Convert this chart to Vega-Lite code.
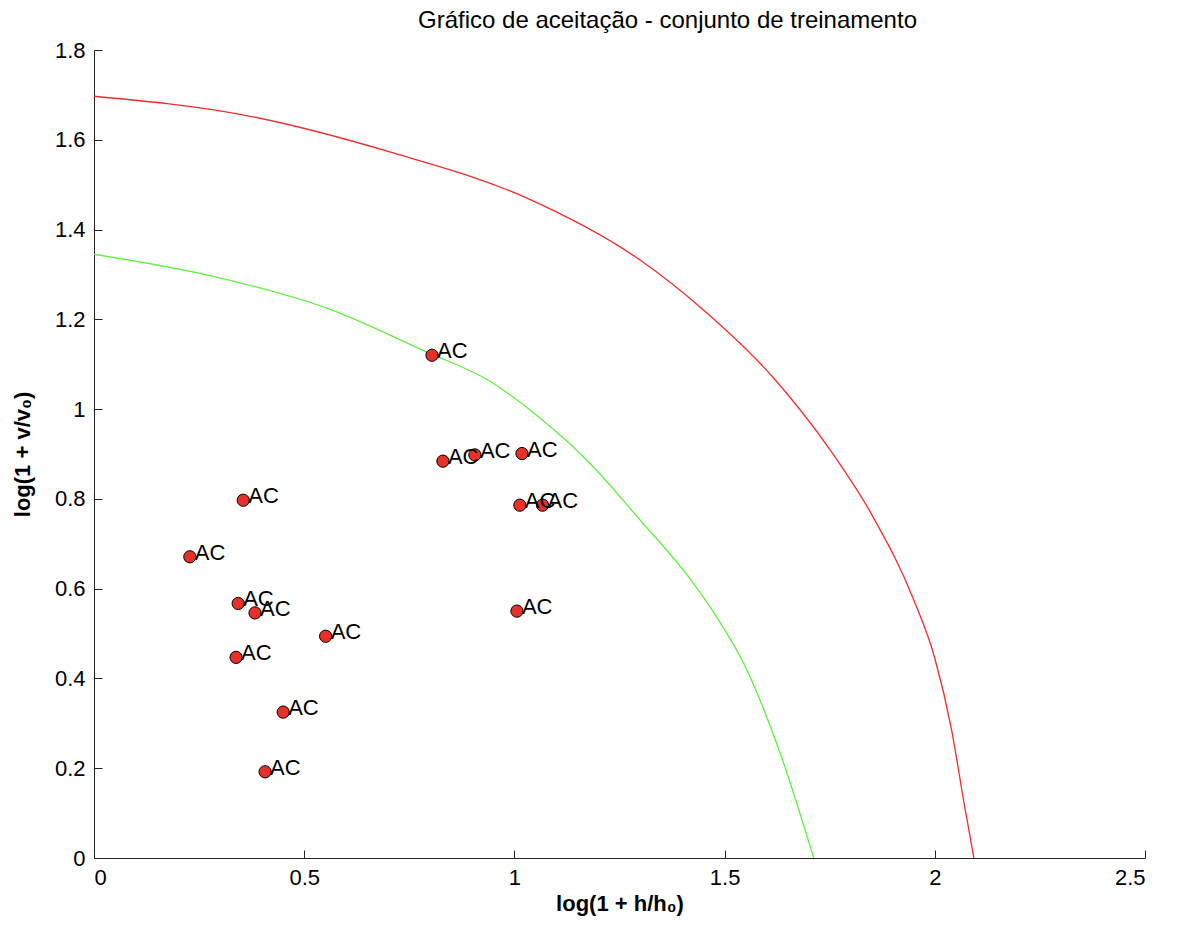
{
  "$schema": "https://vega.github.io/schema/vega-lite/v6.json",
  "autosize": {"type": "none"},
  "padding": {"left": 94, "top": 50, "right": 45, "bottom": 70},
  "width": 1051,
  "height": 808,
  "background": "white",
  "title": {
    "text": "Gráfico de aceitação - conjunto de treinamento",
    "font": "Liberation Sans",
    "fontSize": 24,
    "fontWeight": "normal",
    "color": "black",
    "anchor": "middle",
    "frame": "group",
    "dx": 48,
    "offset": -13,
    "baseline": "alphabetic"
  },
  "config": {
    "view": {"stroke": null},
    "axis": {
      "grid": false,
      "domainColor": "#262626",
      "tickColor": "#262626",
      "labelFont": "Liberation Sans",
      "labelFontSize": 22,
      "labelColor": "black",
      "titleFont": "Liberation Sans",
      "titleFontSize": 22,
      "titleFontWeight": "bold",
      "titleColor": "black",
      "tickSize": -8,
      "labelPadding": 17
    }
  },
  "datasets": {
    "curves": [
      {"curve": "verde", "x": 0.0, "y": 1.345},
      {"curve": "verde", "x": 0.278, "y": 1.297},
      {"curve": "verde", "x": 0.554, "y": 1.225},
      {"curve": "verde", "x": 0.792, "y": 1.127},
      {"curve": "verde", "x": 0.942, "y": 1.062},
      {"curve": "verde", "x": 1.061, "y": 0.98},
      {"curve": "verde", "x": 1.18, "y": 0.879},
      {"curve": "verde", "x": 1.299, "y": 0.753},
      {"curve": "verde", "x": 1.418, "y": 0.622},
      {"curve": "verde", "x": 1.472, "y": 0.55},
      {"curve": "verde", "x": 1.553, "y": 0.419},
      {"curve": "verde", "x": 1.632, "y": 0.234},
      {"curve": "verde", "x": 1.712, "y": 0.0},
      {"curve": "vermelho", "x": 0.0, "y": 1.697},
      {"curve": "vermelho", "x": 0.357, "y": 1.655},
      {"curve": "vermelho", "x": 0.714, "y": 1.57},
      {"curve": "vermelho", "x": 1.03, "y": 1.47},
      {"curve": "vermelho", "x": 1.299, "y": 1.332},
      {"curve": "vermelho", "x": 1.458, "y": 1.214},
      {"curve": "vermelho", "x": 1.615, "y": 1.071},
      {"curve": "vermelho", "x": 1.751, "y": 0.909},
      {"curve": "vermelho", "x": 1.85, "y": 0.765},
      {"curve": "vermelho", "x": 1.95, "y": 0.575},
      {"curve": "vermelho", "x": 2.0, "y": 0.445},
      {"curve": "vermelho", "x": 2.04, "y": 0.285},
      {"curve": "vermelho", "x": 2.07, "y": 0.12},
      {"curve": "vermelho", "x": 2.093, "y": 0.0}
    ],
    "pontos": [
      {"x": 0.804, "y": 1.12, "label": "AC"},
      {"x": 0.83, "y": 0.884, "label": "AC"},
      {"x": 0.906, "y": 0.898, "label": "AC"},
      {"x": 1.018, "y": 0.901, "label": "AC"},
      {"x": 1.013, "y": 0.786, "label": "AC"},
      {"x": 1.067, "y": 0.786, "label": "AC"},
      {"x": 1.006, "y": 0.55, "label": "AC"},
      {"x": 0.355, "y": 0.797, "label": "AC"},
      {"x": 0.228, "y": 0.671, "label": "AC"},
      {"x": 0.343, "y": 0.567, "label": "AC"},
      {"x": 0.383, "y": 0.546, "label": "AC"},
      {"x": 0.551, "y": 0.494, "label": "AC"},
      {"x": 0.338, "y": 0.447, "label": "AC"},
      {"x": 0.45, "y": 0.325, "label": "AC"},
      {"x": 0.407, "y": 0.192, "label": "AC"}
    ]
  },
  "encoding": {
    "x": {
      "field": "x",
      "type": "quantitative",
      "scale": {"domain": [0, 2.5], "nice": false, "zero": false},
      "axis": {
        "title": "log(1 + h/h₀)",
        "values": [0, 0.5, 1, 1.5, 2, 2.5],
        "format": ".1~f",
        "titlePadding": 5
      }
    },
    "y": {
      "field": "y",
      "type": "quantitative",
      "scale": {"domain": [0, 1.8], "nice": false, "zero": false},
      "axis": {
        "title": "log(1 + v/v₀)",
        "values": [0, 0.2, 0.4, 0.6, 0.8, 1, 1.2, 1.4, 1.6, 1.8],
        "format": ".1~f",
        "titlePadding": 20
      }
    }
  },
  "layer": [
    {
      "data": {"name": "curves"},
      "mark": {"type": "line", "strokeWidth": 1.3, "clip": true, "interpolate": "monotone"},
      "encoding": {
        "color": {
          "field": "curve",
          "type": "nominal",
          "scale": {"domain": ["verde", "vermelho"], "range": ["#5ef040", "#f52a2a"]},
          "legend": null
        },
        "order": {"field": "x", "type": "quantitative"}
      }
    },
    {
      "data": {"name": "pontos"},
      "mark": {"type": "point", "filled": true, "shape": "circle", "size": 150, "fill": "#e8302a", "stroke": "black", "strokeWidth": 1, "opacity": 1}
    },
    {
      "data": {"name": "pontos"},
      "mark": {"type": "text", "align": "left", "baseline": "middle", "dx": 5, "dy": -4, "font": "Liberation Sans", "fontSize": 22, "color": "black"},
      "encoding": {"text": {"field": "label"}}
    }
  ]
}
